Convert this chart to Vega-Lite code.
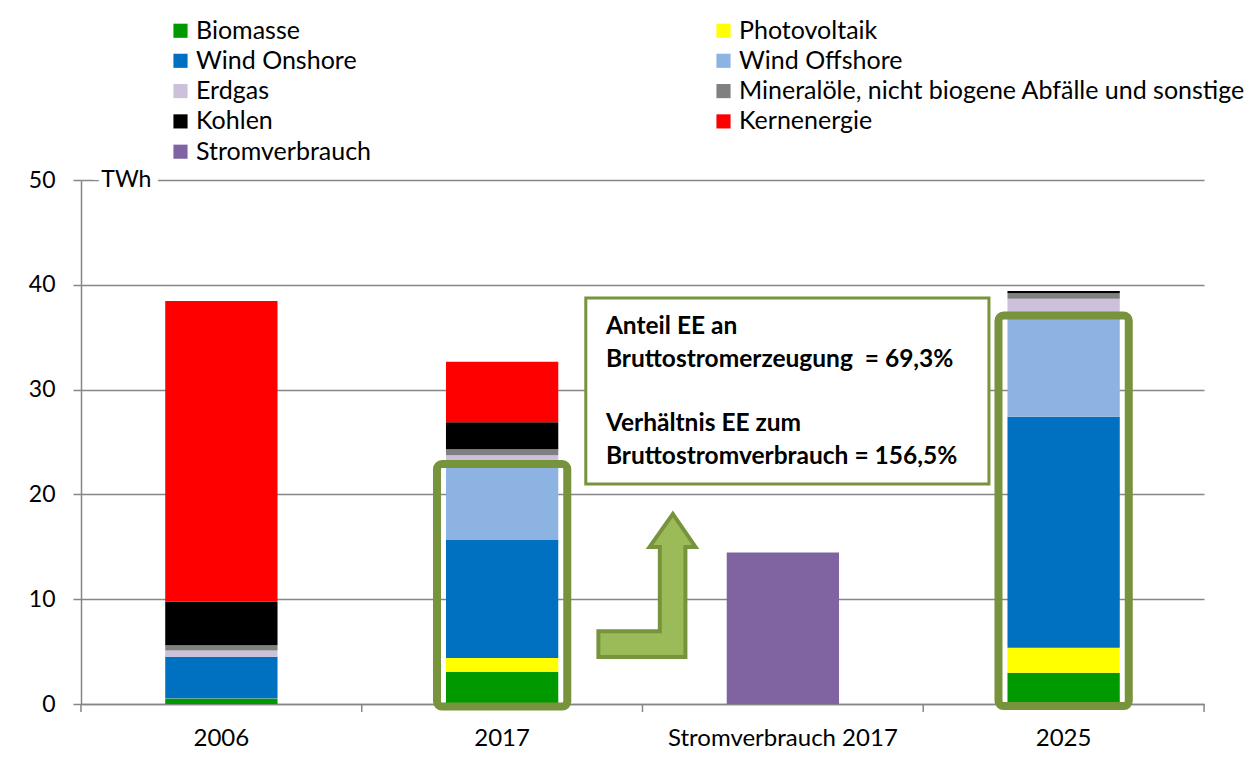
{
  "$schema": "https://vega.github.io/schema/vega-lite/v6.json",
  "autosize": {"type": "none"},
  "padding": {"left": 81, "top": 180, "right": 49, "bottom": 69},
  "width": 1123,
  "height": 524,
  "background": "#ffffff",
  "config": {
    "view": {"stroke": null},
    "font": "Lato",
    "axis": {"labelFont": "Lato", "labelFontSize": 23, "labelColor": "#000000", "domainColor": "#868686", "domainWidth": 1.5, "tickColor": "#868686", "tickWidth": 1.5, "gridColor": "#868686", "gridWidth": 1.5, "title": null}
  },
  "datasets": {
    "bars": [
      {"cat": "2006", "src": "Biomasse", "val": 0.5, "ord": 1},
      {"cat": "2006", "src": "Photovoltaik", "val": 0.02, "ord": 2},
      {"cat": "2006", "src": "Wind Onshore", "val": 3.98, "ord": 3},
      {"cat": "2006", "src": "Wind Offshore", "val": 0, "ord": 4},
      {"cat": "2006", "src": "Erdgas", "val": 0.6, "ord": 5},
      {"cat": "2006", "src": "Mineralöle, nicht biogene Abfälle und sonstige", "val": 0.5, "ord": 6},
      {"cat": "2006", "src": "Kohlen", "val": 4.16, "ord": 7},
      {"cat": "2006", "src": "Kernenergie", "val": 28.69, "ord": 8},
      {"cat": "2017", "src": "Biomasse", "val": 3.05, "ord": 1},
      {"cat": "2017", "src": "Photovoltaik", "val": 1.34, "ord": 2},
      {"cat": "2017", "src": "Wind Onshore", "val": 11.26, "ord": 3},
      {"cat": "2017", "src": "Wind Offshore", "val": 6.98, "ord": 4},
      {"cat": "2017", "src": "Erdgas", "val": 1.1, "ord": 5},
      {"cat": "2017", "src": "Mineralöle, nicht biogene Abfälle und sonstige", "val": 0.57, "ord": 6},
      {"cat": "2017", "src": "Kohlen", "val": 2.58, "ord": 7},
      {"cat": "2017", "src": "Kernenergie", "val": 5.78, "ord": 8},
      {"cat": "Stromverbrauch 2017", "src": "Stromverbrauch", "val": 14.46, "ord": 9},
      {"cat": "2025", "src": "Biomasse", "val": 2.99, "ord": 1},
      {"cat": "2025", "src": "Photovoltaik", "val": 2.38, "ord": 2},
      {"cat": "2025", "src": "Wind Onshore", "val": 22.04, "ord": 3},
      {"cat": "2025", "src": "Wind Offshore", "val": 9.72, "ord": 4},
      {"cat": "2025", "src": "Erdgas", "val": 1.55, "ord": 5},
      {"cat": "2025", "src": "Mineralöle, nicht biogene Abfälle und sonstige", "val": 0.52, "ord": 6},
      {"cat": "2025", "src": "Kohlen", "val": 0.2, "ord": 7},
      {"cat": "2025", "src": "Kernenergie", "val": 0, "ord": 8}
    ],
    "boxes": [
      {"cat": "2017", "lo": -0.25, "hi": 22.9},
      {"cat": "2025", "lo": -0.2, "hi": 37.07}
    ],
    "note": [
      {"cat": "Stromverbrauch 2017", "lo": 21.0, "hi": 38.74}
    ],
    "lines": [
      {"cat": "Stromverbrauch 2017", "y": 36.0, "t": "Anteil EE an"},
      {"cat": "Stromverbrauch 2017", "y": 32.82, "t": "Bruttostromerzeugung \u00a0= 69,3%"},
      {"cat": "Stromverbrauch 2017", "y": 26.72, "t": "Verhältnis EE zum"},
      {"cat": "Stromverbrauch 2017", "y": 23.6, "t": "Bruttostromverbrauch = 156,5%"}
    ],
    "arrow": [
      {"cat": "Stromverbrauch 2017", "y": 11.31}
    ],
    "unit": [
      {"cat": "2006", "y": 50, "t": "TWh"}
    ],
    "ticksLeft": [
      {"cat": "2006"}, {"cat": "2017"}, {"cat": "Stromverbrauch 2017"}, {"cat": "2025"}
    ],
    "ticksRight": [
      {"cat": "2025"}
    ]
  },
  "encoding": {
    "x": {
      "field": "cat", "type": "nominal",
      "scale": {"domain": ["2006", "2017", "Stromverbrauch 2017", "2025"], "paddingInner": 0.6, "paddingOuter": 0.3},
      "axis": {"labelAngle": 0, "tickSize": 8, "tickOpacity": 0, "labelPadding": 14, "labelLimit": 400, "labelFontSize": 24}
    }
  },
  "layer": [
    {
      "data": {"name": "bars"},
      "mark": {"type": "bar"},
      "encoding": {
        "y": {"field": "val", "type": "quantitative", "stack": "zero",
          "scale": {"domain": [0, 50], "nice": false},
          "axis": {"values": [0, 10, 20, 30, 40, 50], "grid": true, "tickSize": 8, "labelPadding": 18}},
        "color": {"field": "src", "type": "nominal",
          "scale": {
            "domain": ["Biomasse", "Photovoltaik", "Wind Onshore", "Wind Offshore", "Erdgas", "Mineralöle, nicht biogene Abfälle und sonstige", "Kohlen", "Kernenergie", "Stromverbrauch"],
            "range": ["#009900", "#FFFF00", "#0070C0", "#8DB3E2", "#CCC0DA", "#808080", "#000000", "#FF0000", "#8064A2"]
          },
          "legend": {"title": null, "orient": "none", "direction": "horizontal", "legendX": 87, "legendY": -162, "columns": 2, "columnPadding": 339, "rowPadding": 4.3, "symbolType": "square", "symbolSize": 200, "symbolStrokeWidth": 0, "labelFont": "Lato", "labelFontSize": 25, "labelColor": "#000000", "labelLimit": 700, "labelOffset": 3}
        },
        "order": {"field": "ord", "type": "quantitative"}
      }
    },
    {
      "data": {"name": "ticksLeft"},
      "mark": {"type": "rule", "xOffset": -140.4, "color": "#868686", "strokeWidth": 1.5},
      "encoding": {
        "y": {"datum": 0, "type": "quantitative"},
        "y2": {"datum": -0.76}
      }
    },
    {
      "data": {"name": "ticksRight"},
      "mark": {"type": "rule", "xOffset": 140.4, "color": "#868686", "strokeWidth": 1.5},
      "encoding": {
        "y": {"datum": 0, "type": "quantitative"},
        "y2": {"datum": -0.76}
      }
    },
    {
      "data": {"name": "boxes"},
      "mark": {"type": "bar", "width": {"band": 1.16}, "fill": null, "fillOpacity": 0, "stroke": "#77933C", "strokeWidth": 8, "cornerRadius": 5},
      "encoding": {
        "y": {"field": "lo", "type": "quantitative"},
        "y2": {"field": "hi"}
      }
    },
    {
      "data": {"name": "note"},
      "mark": {"type": "bar", "width": {"band": 3.59}, "xOffset": 4.5, "fill": "#ffffff", "stroke": "#77933C", "strokeWidth": 3},
      "encoding": {
        "y": {"field": "lo", "type": "quantitative"},
        "y2": {"field": "hi"}
      }
    },
    {
      "data": {"name": "lines"},
      "mark": {"type": "text", "align": "left", "baseline": "middle", "dx": -177, "font": "Lato", "fontSize": 24.5, "fontWeight": "bold", "color": "#000000"},
      "encoding": {
        "y": {"field": "y", "type": "quantitative"},
        "text": {"field": "t"}
      }
    },
    {
      "data": {"name": "arrow"},
      "mark": {"type": "point", "shape": "M -0.678 1 L -0.678 0.64 L 0.181 0.64 L 0.181 -0.539 L 0.038 -0.539 L 0.363 -1 L 0.68 -0.539 L 0.539 -0.539 L 0.539 1 Z", "size": 20449, "filled": true, "fill": "#9BBB59", "stroke": "#77933C", "strokeWidth": 4, "opacity": 1, "xOffset": -136},
      "encoding": {
        "y": {"field": "y", "type": "quantitative"}
      }
    },
    {
      "data": {"name": "unit"},
      "mark": {"type": "text", "align": "center", "baseline": "middle", "dx": -95, "font": "Lato", "fontSize": 23, "fill": "#ffffff", "stroke": "#ffffff", "strokeWidth": 16},
      "encoding": {
        "y": {"field": "y", "type": "quantitative"},
        "text": {"field": "t"}
      }
    },
    {
      "data": {"name": "unit"},
      "mark": {"type": "text", "align": "center", "baseline": "middle", "dx": -95, "font": "Lato", "fontSize": 23, "color": "#000000"},
      "encoding": {
        "y": {"field": "y", "type": "quantitative"},
        "text": {"field": "t"}
      }
    }
  ]
}
